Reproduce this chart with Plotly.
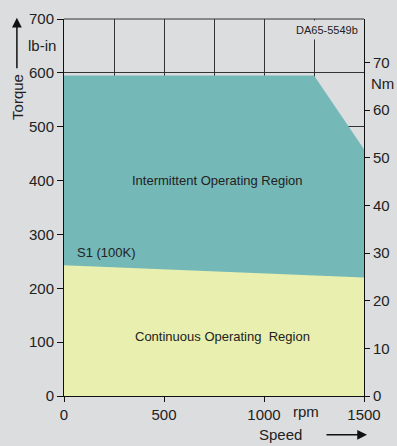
import plotly.graph_objects as go

# Data
speed_int = [0, 1250, 1500]
torque_int = [595, 595, 458]
speed_cont = [0, 1500]
torque_cont = [243, 220]
x_ticks = [0, 500, 1000, 1500]
y_ticks = [0, 100, 200, 300, 400, 500, 600, 700]
nm_ticks = [0, 10, 20, 30, 40, 50, 60, 70]
LBIN_PER_NM = 8.8507

BG = "#dcdddf"
TEAL = "#74b8b8"
YELLOW = "#e8efaf"
DARK = "#222222"
FONT = "Liberation Sans, Arial, sans-serif"

fig = go.Figure()
fig.add_trace(go.Scatter(x=speed_int, y=torque_int, mode="lines", fill="tozeroy",
                         fillcolor=TEAL, line=dict(color=TEAL, width=0), hoverinfo="skip"))
fig.add_trace(go.Scatter(x=speed_cont, y=torque_cont, mode="lines", fill="tozeroy",
                         fillcolor=YELLOW, line=dict(color=YELLOW, width=0), hoverinfo="skip"))
# invisible trace for right axis
fig.add_trace(go.Scatter(x=[0], y=[0], yaxis="y2", mode="markers",
                         marker=dict(opacity=0), hoverinfo="skip"))

fig.update_layout(
    width=397, height=446,
    margin=dict(l=64, r=33, t=19, b=50),
    paper_bgcolor=BG, plot_bgcolor=BG,
    showlegend=False,
    font=dict(family=FONT, color=DARK, size=15),
    xaxis=dict(range=[0, 1500], tickvals=x_ticks, showgrid=False, automargin=False,
               minor=dict(dtick=250, showgrid=True, gridcolor="#333333", gridwidth=1, ticks=""),
               showline=True, linecolor="#111111", linewidth=1, mirror=False,
               ticks="outside", ticklen=5, tickcolor="#111111", zeroline=False,
               tickfont=dict(size=15)),
    yaxis=dict(range=[0, 700], tickvals=y_ticks, showgrid=True, gridcolor="#333333", gridwidth=1,
               showline=True, linecolor="#111111", linewidth=1, automargin=False,
               ticks="outside", ticklen=6, tickcolor="#111111", zeroline=False,
               tickfont=dict(size=15)),
    yaxis2=dict(range=[0, 700 / LBIN_PER_NM], tickvals=nm_ticks, overlaying="y", side="right",
                showgrid=False, showline=True, linecolor="#111111", linewidth=1, automargin=False,
                ticks="outside", ticklen=5, tickcolor="#111111", zeroline=False,
                tickfont=dict(size=15)),
)

# top border
fig.add_shape(type="line", xref="paper", yref="paper", x0=0, x1=1, y0=1, y1=1,
              line=dict(color="#333333", width=1))

def txt(x, y, s, size=15, xref="paper", yref="paper", xanchor="center", angle=0, **kw):
    return dict(x=x, y=y, xref=xref, yref=yref, text=s, showarrow=False,
                xanchor=xanchor, yanchor="middle", textangle=angle, font=dict(size=size), **kw)

ann = [
    txt(765, 401, "Intermittent Operating Region", 13, "x", "y"),
    txt(790, 111, "Continuous Operating  Region", 13, "x", "y"),
    txt(55, 267, "S1 (100K)", 13, "x", "y", xanchor="left"),
    txt(1492, 680, "DA65-5549b", 11, "x", "y", xanchor="right", bgcolor=BG, borderpad=3),
    txt(-0.073, 0.931, "lb-in"),
    txt(1.06, 0.828, "Nm"),
    txt(0.807, -0.04, "rpm"),
    txt(0.8, -0.103, "Speed", xanchor="right"),
    txt(-0.157, 0.793, "Torque", angle=-90),
    dict(x=1.01, y=-0.103, xref="paper", yref="paper", text="",
         showarrow=True, ax=-42, ay=0, arrowhead=2, arrowsize=1.3, arrowwidth=1.5,
         arrowcolor="#111111"),
    dict(x=-0.157, y=1.003, xref="paper", yref="paper", text="",
         showarrow=True, ax=0, ay=52, arrowhead=2, arrowsize=1.3, arrowwidth=1.5,
         arrowcolor="#111111"),
]
fig.update_layout(annotations=ann)

fig.write_html("out.html", config={"displayModeBar": False},
               post_script="document.body.style.margin='0';document.body.style.background='#dcdddf';")
